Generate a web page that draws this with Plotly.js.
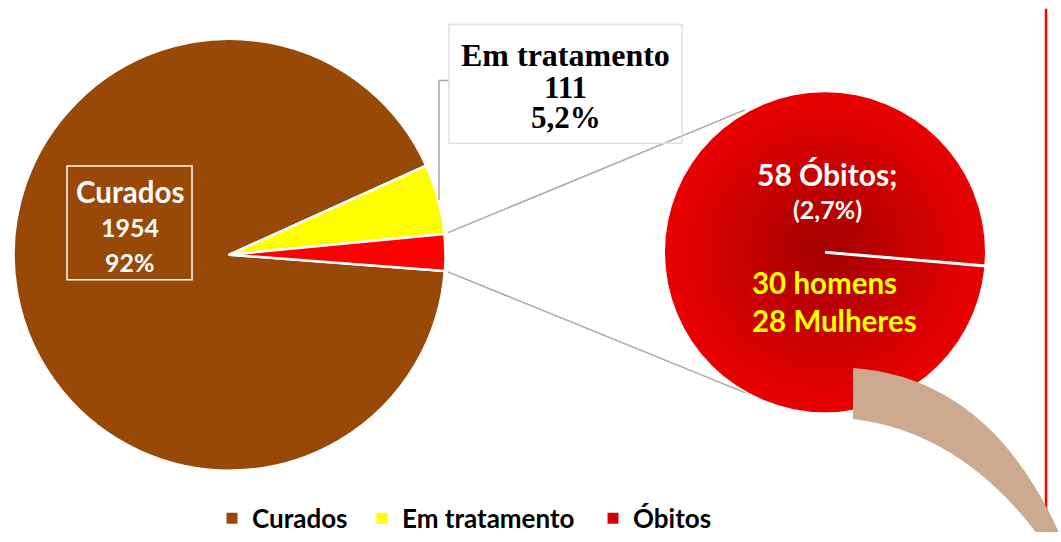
<!DOCTYPE html>
<html>
<head>
<meta charset="utf-8">
<script src="https://cdn.plot.ly/plotly-3.0.1.min.js"></script>
<style>html,body{margin:0;padding:0;background:#fff;}#chart{width:1061px;height:542px;}</style>
</head>
<body>
<div id="chart"></div>
<script>
// ---- data ----
const labels = ["Curados", "Em tratamento", "Óbitos"];
const values = [1954, 111, 58];
const pctText = ["92%", "5,2%", "2,7%"];
const colors = ["#984807", "#FFFF00", "#FF0000"];
const sexLabels = ["homens", "Mulheres"];
const sexValues = [30, 28];

const W = 1061, H = 542;
const sans = "Lato, 'Open Sans', sans-serif";
const serif = "'Liberation Serif', 'DejaVu Serif', serif";

// pie geometry (pixels; domain radius slightly larger than drawn radius)
const pie = {cx: 229.5, cy: 259.5, r: 220};
// zoom circle geometry (pixels)
const zc = {cx: 825, cy: 257, r: 160};

const pieTrace = {
  type: "pie",
  labels: labels,
  values: values,
  sort: false,
  direction: "clockwise",
  rotation: 94.3,
  marker: {colors: colors, line: {color: "#FFFFFF", width: 2.5}},
  textinfo: "none",
  hoverinfo: "none",
  showlegend: false,
  domain: {
    x: [(pie.cx - pie.r) / W, (pie.cx + pie.r) / W],
    y: [1 - (pie.cy + pie.r) / H, 1 - (pie.cy - pie.r) / H]
  }
};

// second circle: breakdown of Óbitos (single disc with radial gradient)
const obitosTotal = values[2];
const circleTrace = {
  type: "scatter",
  mode: "markers",
  x: [zc.cx], y: [zc.cy],
  marker: {
    size: zc.r * 2,
    color: "#EA0000",
    gradient: {type: "radial", color: "#A30000"},
    line: {width: 0}
  },
  hoverinfo: "skip",
  showlegend: false
};

// legend entries (one per pie label)
const legendWidths = [105, 186, 100];
const legendTraces = labels.map(function (lab, i) {
  const m = {symbol: "square", size: 11, color: colors[i], line: {width: 0}};
  if (i === 2) { m.color = "#E80000"; m.gradient = {type: "radial", color: "#A00000"}; }
  return {
    type: "scatter", mode: "markers", x: [null], y: [null],
    name: lab, marker: m, showlegend: true, hoverinfo: "skip",
    legendwidth: legendWidths[i]
  };
});

const shapes = [
  // leader line for Em tratamento label
  {type: "path", xref: "x", yref: "y", path: "M449,82 L439,82 L439,204",
   line: {color: "#A6A6A6", width: 1.5}},
  // Em tratamento box
  {type: "rect", xref: "x", yref: "y", x0: 449, x1: 682, y0: 25, y1: 146,
   line: {color: "#E3E0D4", width: 1.5}, fillcolor: "rgba(0,0,0,0)"},
  // Curados box
  {type: "rect", xref: "x", yref: "y", x0: 67, x1: 192, y0: 169, y1: 285,
   line: {color: "#FFFFFF", width: 1.5}, fillcolor: "rgba(0,0,0,0)", layer: "above"},
  // connector lines to zoom circle
  {type: "line", xref: "x", yref: "y", x0: 448, y0: 237, x1: 745, y1: 112,
   line: {color: "#A6A6A6", width: 1.5}, layer: "below"},
  {type: "line", xref: "x", yref: "y", x0: 448, y0: 277, x1: 745, y1: 400,
   line: {color: "#A6A6A6", width: 1.5}, layer: "below"},
  // white split line in zoom circle
  {type: "line", xref: "x", yref: "y", x0: zc.cx, y0: zc.cy, x1: 986, y1: 271,
   line: {color: "#FFFFFF", width: 3}},
  // red vertical line
  {type: "line", xref: "x", yref: "y", x0: 1046, y0: 9, x1: 1046, y1: 545,
   line: {color: "#FF0000", width: 2.5}},
  // tan curved arrow band
  {type: "path", xref: "x", yref: "y",
   path: "M853,375 Q990,385 1060,545 L1038,545 Q960,440 853,427 Z",
   fillcolor: "#CBAA8F", line: {width: 0}}
];

function ann(text, x, y, size, color, font, extra) {
  return Object.assign({
    text: text, x: x, y: y, xref: "x", yref: "y",
    showarrow: false, xanchor: "center", yanchor: "middle",
    font: {family: font, size: size, color: color}
  }, extra || {});
}

const annotations = [
  ann("<b>" + labels[0] + "</b>", 129.5, 195, 29.5, "#FFFFFF", sans),
  ann("<b>" + values[0] + "</b>", 129.5, 231, 25, "#FFFFFF", sans),
  ann("<b>" + pctText[0] + "</b>", 129.5, 267, 25, "#FFFFFF", sans),
  ann("<b>" + labels[1] + "</b>", 565.5, 56, 32, "#000000", serif),
  ann("<b>" + values[1] + "</b>", 565.5, 89, 31, "#000000", serif),
  ann("<b>" + pctText[1] + "</b>", 565.5, 120, 31, "#000000", serif),
  ann("<b>" + obitosTotal + " " + labels[2] + ";</b>", 827, 177, 30, "#FFFFFF", sans),
  ann("<b>(" + pctText[2] + ")</b>", 827, 213, 25, "#FFFFFF", sans),
  ann("<b>" + sexValues[0] + " " + sexLabels[0] + "</b>", 750, 288, 29.5, "#FFFF00", sans, {xanchor: "left"}),
  ann("<b>" + sexValues[1] + " " + sexLabels[1] + "</b>", 750, 327, 29.5, "#FFFF00", sans, {xanchor: "left"})
];

const layout = {
  width: W, height: H,
  margin: {l: 0, r: 0, t: 0, b: 0, pad: 0},
  paper_bgcolor: "#FFFFFF", plot_bgcolor: "rgba(0,0,0,0)",
  xaxis: {range: [0, W], visible: false, fixedrange: true},
  yaxis: {range: [H, 0], visible: false, fixedrange: true},
  showlegend: true,
  legend: {
    orientation: "h", x: 212 / W, xanchor: "left", y: 1 - 528 / H, yanchor: "middle",
    font: {family: sans, size: 26, color: "#000000", weight: "bold"},
    bgcolor: "rgba(0,0,0,0)", itemclick: false
  },
  shapes: shapes,
  annotations: annotations
};

Plotly.newPlot("chart", [circleTrace, pieTrace].concat(legendTraces), layout, {staticPlot: true, displayModeBar: false});
</script>
</body>
</html>
